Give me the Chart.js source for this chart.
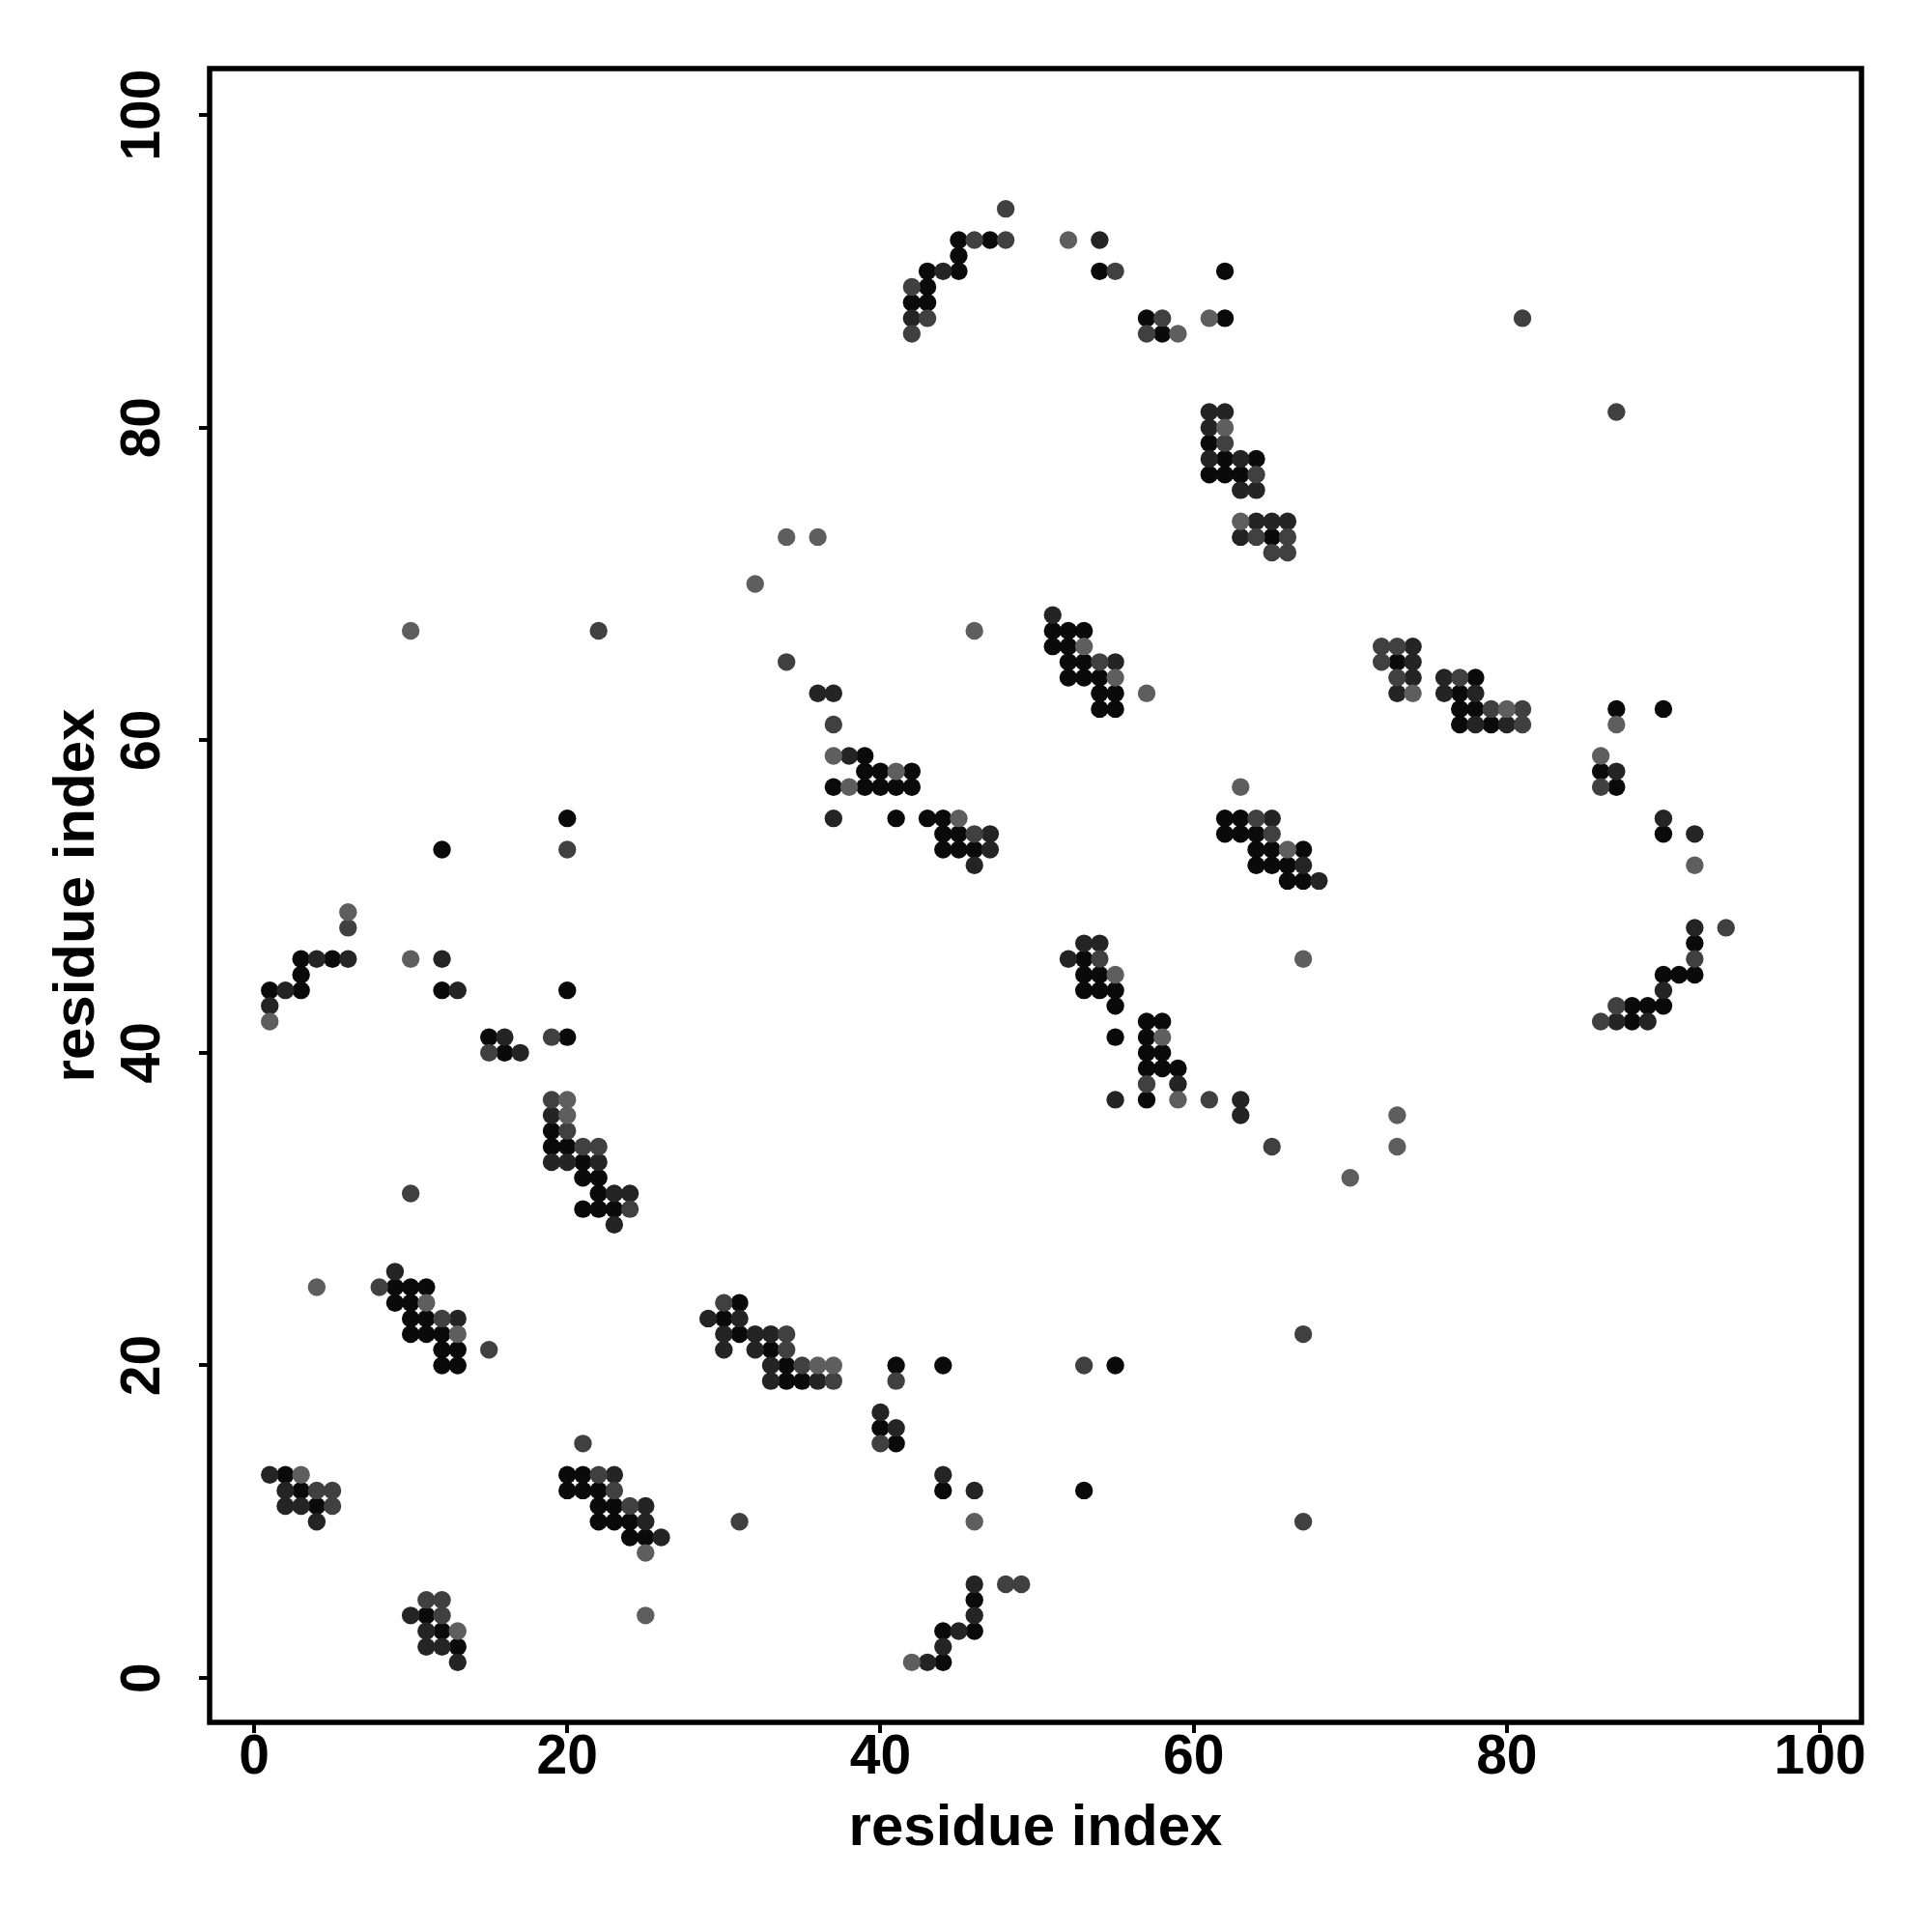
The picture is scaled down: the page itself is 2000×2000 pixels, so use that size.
<!DOCTYPE html>
<html><head><meta charset="utf-8">
<script src="https://cdn.jsdelivr.net/npm/chart.js@4.4.1/dist/chart.umd.min.js"></script>
<style>html,body{margin:0;padding:0;background:#fff}#wrap{width:2000px;height:2000px}</style>
</head><body><div id="wrap"><canvas id="c" width="2000" height="2000"></canvas></div>
<script>
const xTitle = "residue index";
const yTitle = "residue index";
const tickValues = [0, 20, 40, 60, 80, 100];

// contact pairs [i, j], grouped by shade
const blackPts = [[9,25],[10,25],[11,25],[9,24],[10,24],[10,23],[11,23],[10,22],[11,22],[12,22],[12,21],[13,21],[12,20],[13,20],
[2,13],[3,12],[4,11],
[20,13],[21,13],[20,12],[21,12],[22,12],[22,11],[23,11],[22,10],[23,10],[24,10],[24,9],[25,9],
[11,4],[12,3],[13,2],
[20,55],[12,53],[3,46],[5,46],[3,45],[1,44],[3,44],[12,44],[20,44],[15,41],[20,41],[16,40],[19,35],[19,34],[20,34],[21,33],[21,32],[22,32],[22,31],[21,30],[22,30],[23,30],
[31,24],[30,23],[31,22],[33,21],[34,20],[41,20],[44,20],[55,20],[34,19],[35,19],[40,16],[41,15],[44,12],[53,12],[46,5],[44,3],[46,3],[44,1],
[41,55],[43,55],[44,55],[44,54],[45,54],[44,53],[45,53],[46,53],[53,46],[53,45],[54,45],[53,44],[54,44],[55,44],[55,43],[55,41],
[62,55],[63,55],[62,54],[63,54],[64,54],[64,53],[65,53],[67,53],[64,52],[65,52],[66,52],[66,51],[67,51],
[57,42],[58,42],[57,41],[57,40],[58,40],[57,39],[58,39],[59,39],[57,37],
[87,62],[90,62],[86,58],[87,57],[90,54],[92,47],[90,45],[91,45],[92,45],[88,43],[89,43],[90,43],[88,42],
[51,67],[52,67],[53,67],[51,66],[52,66],[52,65],[53,65],[52,64],[53,64],[54,64],[54,63],[55,63],[54,62],[55,62],
[39,59],[39,58],[40,58],[42,58],[37,57],[39,57],[40,57],[41,57],[42,57],
[61,79],[62,78],[64,78],[61,77],[62,77],[63,77],[65,73],
[73,65],[78,64],[77,63],[77,62],[78,62],[77,61],[79,61],
[45,92],[47,92],[45,91],[43,90],[45,90],[54,90],[62,90],[43,89],[42,88],[43,88],[57,87],[62,87],[58,86]];

const darkPts = [[9,26],[13,23],[1,13],[2,12],[2,11],[3,11],[4,10],[23,13],[25,11],[25,10],[26,9],[10,4],[11,3],[11,2],[12,2],[13,1],
[4,46],[6,46],[12,46],[2,44],[13,44],[1,43],[16,41],[17,40],[19,36],[19,33],[20,33],[22,33],[23,31],[24,31],[23,29],
[29,23],[31,23],[30,22],[32,22],[33,22],[30,21],[32,21],[33,20],[33,19],[36,19],[40,17],[41,16],[44,13],[46,12],[46,6],[46,4],[45,3],[44,2],[43,1],
[37,55],[47,54],[47,53],[46,52],[53,47],[54,47],[52,46],[55,37],
[65,55],[67,52],[68,51],[59,38],[63,37],[63,36],
[87,58],[90,55],[92,54],[92,48],[90,44],[87,42],[89,42],
[51,68],[55,65],[36,63],[37,63],[38,59],
[61,81],[62,81],[61,80],[61,78],[63,78],[63,76],[64,76],[64,74],[65,74],[66,74],[63,73],
[74,66],[74,65],[74,64],[73,63],[76,64],[76,63],[78,63],[78,61],[80,61],
[54,92],[44,90],[42,87]];

const midPts = [[8,25],[12,23],[15,21],[4,12],[5,12],[5,11],[21,15],[22,13],[23,12],[24,11],[11,5],[12,5],[12,4],
[20,53],[6,48],[19,41],[15,40],[19,37],[20,35],[21,34],[22,34],[10,31],[24,30],
[30,24],[34,22],[34,21],[35,20],[53,20],[37,19],[41,19],[40,15],[31,10],[48,6],[49,6],
[46,54],[54,46],
[64,55],[65,54],[57,38],[61,37],[65,34],
[86,57],[94,48],[92,46],[87,43],[86,42],
[34,65],[54,65],[37,61],
[62,79],[64,77],[64,73],[66,73],[65,72],[66,72],
[72,66],[73,66],[72,65],[73,64],[77,64],[79,62],[81,62],[81,61],
[48,94],[46,92],[48,92],[55,90],[42,89],[43,87],[58,87],[42,86],[57,86],[81,87],[87,81],
[22,67],[67,22],[67,10]];

const greyPts = [[4,25],[11,24],[13,22],[3,13],[25,8],[25,4],[13,3],
[6,49],[10,46],[1,42],[20,37],[20,36],
[36,20],[37,20],[46,10],[42,1],
[45,55],[55,45],
[66,53],[63,57],[67,46],[58,41],[59,37],[73,36],[73,34],[70,32],
[87,61],[86,59],[92,52],
[34,73],[36,73],[32,70],[46,67],[53,66],[55,64],[57,63],[37,59],[41,58],[38,57],
[62,80],[63,74],[74,63],[80,62],
[52,92],[61,87],[59,86],
[10,67]];

const FONT = "'Liberation Sans', Arial, Helvetica, sans-serif";
const toXY = arr => arr.map(p => ({x: p[0], y: p[1]}));
function ds(label, arr, color) {
  return {label, data: toXY(arr), backgroundColor: color, borderWidth: 0,
          pointRadius: 9.2, pointHoverRadius: 9.2, pointStyle: 'circle'};
}

const framePlugin = {
  id: 'frame',
  afterDraw(chart) {
    const ctx = chart.ctx, a = chart.chartArea;
    const ys = chart.scales.y, xs = chart.scales.x;
    ctx.save();
    ctx.strokeStyle = '#000';
    ctx.lineWidth = 5.5;
    ctx.strokeRect(a.left, a.top, a.right - a.left, a.bottom - a.top);
    ctx.fillStyle = '#000';
    ctx.font = 'bold 57px ' + FONT;
    ctx.textAlign = 'center';
    ctx.textBaseline = 'middle';
    tickValues.forEach(v => {
      ctx.fillText(String(v), xs.getPixelForValue(v), 1820);
      const py = ys.getPixelForValue(v);
      ctx.save();
      ctx.translate(149, py);
      ctx.rotate(-Math.PI / 2);
      ctx.fillText(String(v), 0, 0);
      ctx.restore();
    });
    ctx.font = 'bold 60px ' + FONT;
    ctx.fillText(xTitle, (a.left + a.right) / 2, 1893);
    ctx.save();
    ctx.translate(80, (a.top + a.bottom) / 2);
    ctx.rotate(-Math.PI / 2);
    ctx.fillText(yTitle, 0, 0);
    ctx.restore();
    ctx.restore();
  }
};

new Chart(document.getElementById('c'), {
  type: 'scatter',
  data: {datasets: [
    ds('grey', greyPts, '#5e5e5e'),
    ds('mid', midPts, '#404040'),
    ds('dark', darkPts, '#242424'),
    ds('black', blackPts, '#0a0a0a')
  ]},
  options: {
    responsive: false, animation: false, devicePixelRatio: 1,
    layout: {padding: {left: 0, top: 71, right: 73, bottom: 0}},
    plugins: {legend: {display: false}, tooltip: {enabled: false}},
    scales: {
      x: {
        type: 'linear', min: -2.84, max: 102.65,
        afterBuildTicks: s => { s.ticks = tickValues.map(v => ({value: v})); },
        afterFit: s => { s.height = 217; },
        grid: {display: true, drawOnChartArea: false, drawTicks: true, tickLength: 11, color: '#000', lineWidth: 4},
        border: {display: false},
        ticks: {display: false}
      },
      y: {
        type: 'linear', min: -2.84, max: 102.97,
        afterBuildTicks: s => { s.ticks = tickValues.map(v => ({value: v})); },
        afterFit: s => { s.width = 217; },
        grid: {display: true, drawOnChartArea: false, drawTicks: true, tickLength: 11, color: '#000', lineWidth: 4},
        border: {display: false},
        ticks: {display: false}
      }
    }
  },
  plugins: [framePlugin]
});
</script>
</body></html>
